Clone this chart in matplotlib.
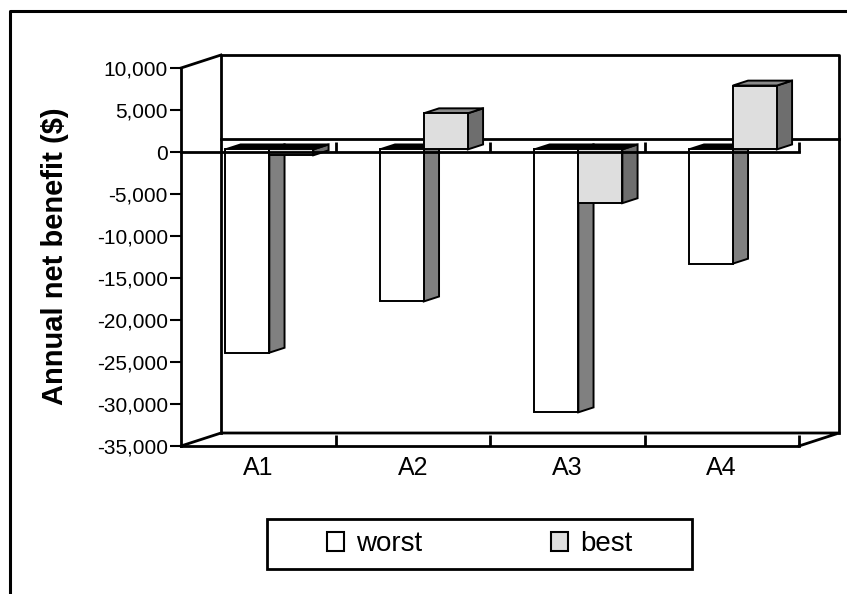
import numpy as np
import matplotlib
matplotlib.use('Agg')
import matplotlib.pyplot as plt
from matplotlib.patches import Polygon, Patch, Rectangle
from matplotlib.lines import Line2D
from matplotlib.ticker import FuncFormatter

plt.rcParams['font.family'] = ['Liberation Sans', 'DejaVu Sans']

# data
categories = ['A1', 'A2', 'A3', 'A4']
worst = [-24200, -18100, -31300, -13600]
best = [-700, 4300, -6400, 7600]
series_names = ['worst', 'best']
yticks = np.arange(-35000, 10001, 5000)

W, H = 847, 594
fig = plt.figure(figsize=(W / 100, H / 100), dpi=100)

# plot box: front y axis at x=181px, back wall right edge at 839px
ax = fig.add_axes([181 / W, 1 - 446 / H, 658 / W, 391 / H])
ymin, ymax = -35000, 10000
ncat = len(categories)
DX = 40 / 154.5          # depth offset in category units
DY = 13 / 8.4 * 1000     # depth offset in value units
ax.set_xlim(0, ncat + DX)
ax.set_ylim(ymin, ymax + DY)
ax.set_facecolor('none')

lw_ax = 2.0
kw = dict(color='k', lw=lw_ax, solid_capstyle='projecting', clip_on=False)

# back wall + floor + depth edges
ax.plot([DX, DX, ncat + DX, ncat + DX], [ymin + DY, ymax + DY, ymax + DY, ymin + DY], zorder=1, **kw)
ax.plot([0, DX, ncat + DX, ncat], [ymin, ymin + DY, ymin + DY, ymin], zorder=1, **kw)
ax.plot([0, DX], [ymax, ymax + DY], zorder=1, **kw)
ax.plot([DX, ncat + DX], [DY, DY], zorder=1, **kw)   # zero line on back wall

# 3d-ish columns
d0, d1 = 0.2, 0.58       # front / back of the columns as a fraction of depth
bw = 0.285
offsets = [-0.265, 0.02]
styles = [
    dict(face='white', side='#808080', top='#8a8a8a'),
    dict(face='#dedede', side='#6e6e6e', top='#8a8a8a'),
]


def column(x0, v, st, z):
    x1 = x0 + bw
    yt, yb = max(v, 0), min(v, 0)
    side = [(x1 + d0 * DX, yb + d0 * DY), (x1 + d1 * DX, yb + d1 * DY),
            (x1 + d1 * DX, yt + d1 * DY), (x1 + d0 * DX, yt + d0 * DY)]
    top = [(x0 + d0 * DX, yt + d0 * DY), (x1 + d0 * DX, yt + d0 * DY),
           (x1 + d1 * DX, yt + d1 * DY), (x0 + d1 * DX, yt + d1 * DY)]
    topc = st['top'] if v > 0 else 'black'
    ax.add_patch(Polygon(side, fc=st['side'], ec='k', lw=1.4, zorder=z))
    ax.add_patch(Polygon(top, fc=topc, ec='k', lw=1.4, zorder=z))
    ax.bar(x0 + d0 * DX, v, width=bw, bottom=d0 * DY, align='edge',
           color=st['face'], edgecolor='k', lw=1.4, zorder=z)


for i in range(ncat):
    c = i + 0.5
    for j, vals in enumerate([worst, best]):
        column(c + offsets[j], vals[i], styles[j], 3 + 2 * i + j)

# category axis drawn at zero, in front of the columns
ax.plot([0, ncat], [0, 0], zorder=30, **kw)
ax.vlines(np.arange(1, ncat + 1), 0, 1190, color='k', lw=lw_ax, zorder=30)

# axes
for s in ['top', 'right']:
    ax.spines[s].set_visible(False)
ax.spines['left'].set_bounds(ymin, ymax)
ax.spines['bottom'].set_bounds(0, ncat)
ax.spines['left'].set_linewidth(lw_ax)
ax.spines['bottom'].set_linewidth(lw_ax)
ax.spines['left'].set_zorder(31)

ax.set_yticks(yticks)
ax.yaxis.set_major_formatter(FuncFormatter(lambda v, p: f'{v:,.0f}'))
ax.tick_params(axis='y', direction='out', length=8, width=1.5, labelsize=15, pad=1.5)

ax.set_xticks(np.arange(ncat) + 0.5)
ax.set_xticklabels(categories)
ax.set_xticks(np.arange(1, ncat + 1), minor=True)
ax.tick_params(axis='x', which='major', length=0, labelsize=18, pad=7)
ax.tick_params(axis='x', which='minor', direction='in', length=8, width=lw_ax)

fig.text(55 / W, 1 - 256 / H, 'Annual net benefit ($)', rotation=90,
         ha='center', va='center', fontsize=21, fontweight='bold')

# legend
handles = [Patch(fc=styles[0]['face'], ec='k', lw=1.5),
           Patch(fc=styles[1]['face'], ec='k', lw=1.5)]
fig.legend(handles, series_names, ncol=2, loc='center',
           bbox_to_anchor=(480 / W, 1 - 544 / H), frameon=False, fontsize=20,
           handlelength=0.61, handleheight=0.68, handletextpad=0.43,
           columnspacing=4.64, borderaxespad=0, borderpad=0)
fig.add_artist(Rectangle((267 / W, 1 - 569 / H), 425 / W, 50 / H,
                         transform=fig.transFigure, fill=False, ec='k', lw=2))

# chart border (cut off at right and bottom)
fig.add_artist(Line2D([10 / W, 10 / W, 1], [1 - 593 / H, 1 - 11 / H, 1 - 11 / H],
                      transform=fig.transFigure, color='k', lw=2.2))

fig.savefig('out.png', dpi=100)
